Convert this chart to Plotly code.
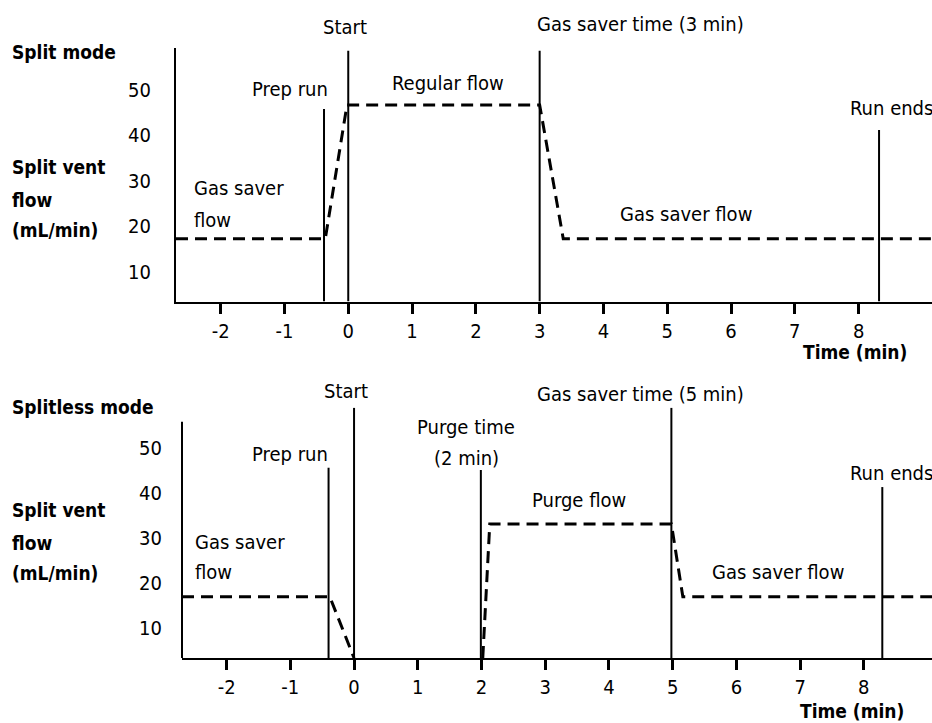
import plotly.graph_objects as go

FONT = "DejaVu Sans Condensed, Liberation Sans Narrow, Liberation Sans, sans-serif"
W, H = 932, 723

# ---------------- data ----------------
# Split mode
split_flow_time = [-2.7, -0.36, -0.02, 3.0, 3.37, 9.15]
split_flow_value = [17.3, 17.3, 46.7, 46.7, 17.3, 17.3]
split_event_time = [-0.38, 0.0, 3.0, 8.32]
split_event_top = [45.8, 58.6, 58.6, 41.2]

# Splitless mode
splitless_flow_time = [-2.7, -0.38, 0.0, None, 2.02, 2.13, 4.98, 5.16, 9.07]
splitless_flow_value = [16.9, 16.9, 3.3, None, 3.3, 33.1, 33.1, 16.9, 16.9]
splitless_event_time = [-0.40, 0.0, 1.99, 4.98, 8.29]
splitless_event_top = [45.6, 58.9, 45.1, 58.9, 41.3]

time_ticks = [-2, -1, 0, 1, 2, 3, 4, 5, 6, 7, 8]
time_tick_labels = ["-2", "-1", "0", "1", "2", "3", "4", "5", "6", "7", "8"]
flow_ticks = [10, 20, 30, 40, 50]
flow_tick_labels = ["10", "20", "30", "40", "50"]

split_range_x = [-2.70, 9.15]
split_range_y = [3.5, 59.2]
splitless_range_x = [-2.70, 9.07]
splitless_range_y = [3.3, 59.1]
splitless_axis_top = 55.8

# ---------------- figure ----------------
fig = go.Figure()


def events(times, tops, base):
    xs, ys = [], []
    for t, top in zip(times, tops):
        xs += [t, t, None]
        ys += [base, top, None]
    return xs, ys


ex, ey = events(split_event_time, split_event_top, split_range_y[0])
fig.add_trace(go.Scatter(x=ex, y=ey, mode="lines", line=dict(color="black", width=2),
                         xaxis="x", yaxis="y", hoverinfo="skip"))
fig.add_trace(go.Scatter(x=split_flow_time, y=split_flow_value, mode="lines",
                         line=dict(color="black", width=3, dash="12px,7px"),
                         xaxis="x", yaxis="y", hoverinfo="skip"))

ex, ey = events(splitless_event_time, splitless_event_top, splitless_range_y[0])
fig.add_trace(go.Scatter(x=ex, y=ey, mode="lines", line=dict(color="black", width=2),
                         xaxis="x2", yaxis="y2", hoverinfo="skip"))
fig.add_trace(go.Scatter(x=splitless_flow_time, y=splitless_flow_value, mode="lines",
                         line=dict(color="black", width=3, dash="12px,7px"),
                         xaxis="x2", yaxis="y2", hoverinfo="skip", connectgaps=False))

FS = 20
xcommon = dict(showgrid=False, zeroline=False, showline=True, linecolor="black", linewidth=2,
               ticks="outside", ticklen=10, tickwidth=3, tickcolor="black",
               tickmode="array", tickvals=time_ticks, ticktext=time_tick_labels,
               tickfont=dict(family=FONT, size=FS, color="black"), fixedrange=True)
ycommon = dict(showgrid=False, zeroline=False, ticks="", tickmode="array",
               tickvals=flow_ticks, ticktext=flow_tick_labels, ticklabelstandoff=19,
               tickfont=dict(family=FONT, size=FS, color="black"), fixedrange=True)

fig.update_layout(
    width=W, height=H, margin=dict(l=0, r=0, t=0, b=0),
    paper_bgcolor="white", plot_bgcolor="white", showlegend=False,
    xaxis=dict(domain=[176 / W, 1], range=split_range_x, anchor="y", **xcommon),
    yaxis=dict(domain=[(H - 301.5) / H, (H - 48) / H], range=split_range_y, anchor="x",
               showline=True, linecolor="black", linewidth=2, **ycommon),
    xaxis2=dict(domain=[182 / W, 1], range=splitless_range_x, anchor="y2", **xcommon),
    yaxis2=dict(domain=[(H - 658) / H, (H - 407) / H], range=splitless_range_y, anchor="x2",
                showline=False, **ycommon),
)

fig.add_shape(type="line", xref="x2 domain", x0=0, x1=0, yref="y2",
              y0=splitless_range_y[0], y1=splitless_axis_top,
              line=dict(color="black", width=2))

reg = dict(family=FONT, size=FS, color="black")
bold = dict(family=FONT, size=19, color="black", weight="bold")


def note(text, x, y, xref, yref, xanchor="center", font=reg):
    fig.add_annotation(text=text, x=x, y=y, xref=xref, yref=yref, xanchor=xanchor,
                       yanchor="middle", showarrow=False, font=font)


# top panel labels
note("Start", -0.05, 1 - 27 / H, "x", "paper")
note("Gas saver time (3 min)", 4.58, 1 - 24 / H, "x", "paper")
note("Prep run", -0.91, 50.2, "x", "y")
note("Regular flow", 1.57, 51.5, "x", "y")
note("Run ends", 7.84, 46.0, "x", "y", "left")
note("Gas saver", -2.45, 28.5, "x", "y", "left")
note("flow", -2.45, 21.4, "x", "y", "left")
note("Gas saver flow", 5.30, 22.7, "x", "y")

# bottom panel labels
note("Start", -0.13, 1 - 391 / H, "x2", "paper")
note("Gas saver time (5 min)", 4.49, 1 - 394 / H, "x2", "paper")
note("Prep run", -1.0, 48.7, "x2", "y2")
note("Purge time", 1.76, 54.7, "x2", "y2")
note("(2 min)", 1.76, 47.8, "x2", "y2")
note("Purge flow", 3.53, 38.4, "x2", "y2")
note("Gas saver flow", 6.65, 22.4, "x2", "y2")
note("Run ends", 7.75, 44.4, "x2", "y2", "left")
note("Gas saver", -2.53, 29.1, "x2", "y2", "left")
note("flow", -2.53, 22.4, "x2", "y2", "left")

# left titles
lx = 10 / W
for text, py in [("Split mode", 52), ("Split vent", 167), ("flow", 200), ("(mL/min)", 230),
                 ("Splitless mode", 407), ("Split vent", 510), ("flow", 543), ("(mL/min)", 573)]:
    note(text, lx, 1 - py / H, "paper", "paper", "left", bold)

note("Time (min)", 855 / W, 1 - 352 / H, "paper", "paper", "center", bold)
note("Time (min)", 852 / W, 1 - 711 / H, "paper", "paper", "center", bold)

fig.write_html(
    "out.html",
    config={"displayModeBar": False},
    post_script="document.body.style.margin='0';document.body.style.overflow='hidden';",
)
